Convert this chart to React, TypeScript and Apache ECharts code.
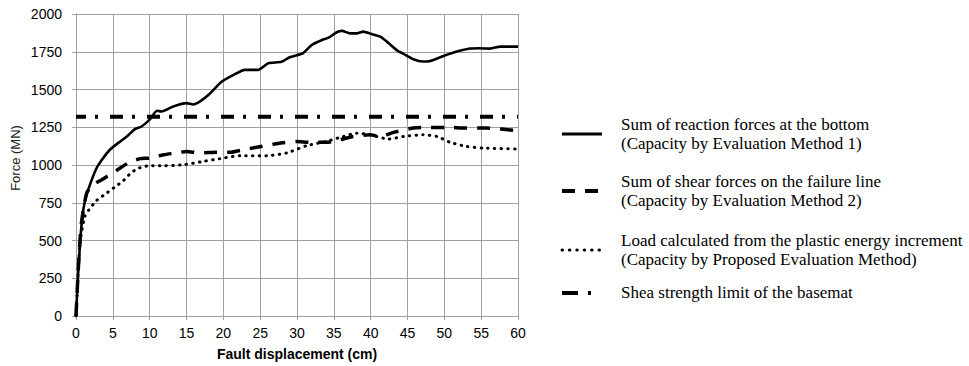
import React, { useEffect, useRef } from "react";
import * as echarts from "echarts";

// Fault displacement (cm) and force (MN)
const reactionX = [0, 0.35, 0.8, 1.2, 1.9, 2.8, 3.6, 4.6, 5.7, 6.9, 8.0, 8.9, 10.0, 11.0, 11.6, 13.2, 15.0, 15.9, 16.8, 18.0, 19.8, 21.4, 22.9, 24.7, 26.1, 27.9, 29.0, 30.8, 32.0, 33.4, 34.3, 35.4, 36.1, 37.2, 38.1, 39.0, 40.1, 41.3, 42.2, 43.7, 44.4, 45.8, 47.1, 48.1, 49.9, 51.7, 53.5, 54.8, 56.2, 57.6, 60];
const reactionY = [0, 330, 630, 760, 870, 980, 1040, 1101, 1145, 1189, 1238, 1255, 1300, 1359, 1354, 1388, 1410, 1401, 1420, 1465, 1553, 1597, 1630, 1630, 1674, 1683, 1714, 1740, 1795, 1828, 1843, 1879, 1888, 1872, 1872, 1883, 1868, 1850, 1817, 1755, 1738, 1700, 1685, 1689, 1722, 1751, 1771, 1773, 1771, 1784, 1784];

const shearX = [0, 0.3, 0.7, 1.45, 2.35, 3.5, 4.6, 6.0, 7.3, 8.7, 10.0, 11.9, 13.7, 15.0, 16.8, 19.1, 20.9, 22.7, 24.7, 27.2, 29.9, 31.8, 34.0, 35.8, 37.6, 39.9, 41.3, 43.1, 45.8, 48.1, 50.3, 53.0, 55.7, 60];
const shearY = [0, 300, 600, 815, 870, 903, 936, 980, 1020, 1042, 1046, 1068, 1080, 1090, 1080, 1084, 1084, 1101, 1119, 1141, 1156, 1150, 1150, 1167, 1189, 1200, 1189, 1216, 1245, 1249, 1249, 1245, 1245, 1227];

const energyX = [0, 0.3, 0.6, 1.2, 1.7, 2.8, 4.2, 5.3, 6.4, 7.3, 8.3, 10.0, 11.9, 14.6, 17.3, 19.5, 22.3, 25.9, 28.6, 31.3, 34.0, 36.3, 38.1, 39.9, 42.4, 44.5, 47.1, 49.0, 50.8, 53.0, 55.3, 60];
const energyY = [0, 300, 507, 660, 700, 765, 815, 855, 895, 940, 975, 996, 995, 1002, 1024, 1042, 1062, 1062, 1080, 1128, 1156, 1189, 1211, 1200, 1172, 1189, 1200, 1189, 1150, 1123, 1112, 1106];

const limitX = [0, 60];
const limitY = [1320, 1320];

const xTicks = { min: 0, max: 60, interval: 5 };
const yTicks = { min: 0, max: 2000, interval: 250 };

const legendLabels = [
  "Sum of reaction forces at the bottom\n(Capacity by Evaluation Method 1)",
  "Sum of shear forces on the failure line\n(Capacity by Evaluation Method 2)",
  "Load calculated from the plastic energy increment\n(Capacity by Proposed Evaluation Method)",
  "Shea strength limit of the basemat",
];
const xAxisTitle = "Fault displacement (cm)";
const yAxisTitle = "Force (MN)";

const pairs = (xs: number[], ys: number[]) => xs.map((x, i) => [x, ys[i]]);

export default function App() {
  const ref = useRef<HTMLDivElement>(null);
  useEffect(() => {
    if (!ref.current) return;
    const chart = echarts.init(ref.current, undefined, { renderer: "svg" });
    const grid = "#a0a0a0";
    const legendTop = [134, 191, 250, 293];
    const legendDash: any[] = [null, [13, 10], [0.5, 6.9], [16, 10, 3, 30]];
    const legendWidth = [3, 4, 3, 4];
    const graphic: any[] = [];
    legendLabels.forEach((lbl, i) => {
      graphic.push({
        type: "line",
        shape: { x1: 562, y1: legendTop[i], x2: 602, y2: legendTop[i] },
        style: {
          stroke: "#000",
          lineWidth: legendWidth[i],
          lineDash: legendDash[i] || undefined,
          lineCap: i === 2 ? "round" : "butt",
        },
      });
      graphic.push({
        type: "text",
        x: 621,
        y: i === 3 ? legendTop[i] - 1 : legendTop[i] - 0.5,
        style: {
          text: lbl,
          font: "17px 'Liberation Serif'",
          fill: "#000",
          lineHeight: 19,
          verticalAlign: "middle",
          align: "left",
        },
      });
    });
    graphic.push({
      type: "text",
      x: 15,
      y: 158,
      rotation: Math.PI / 2,
      style: {
        text: yAxisTitle,
        font: "13px 'Liberation Sans'",
        fill: "#222",
        align: "center",
        verticalAlign: "middle",
      },
    });

    chart.setOption({
      animation: false,
      backgroundColor: "#fff",
      grid: { left: 76, right: 451, top: 14, bottom: 49 },
      xAxis: {
        type: "value",
        ...xTicks,
        name: xAxisTitle,
        nameLocation: "middle",
        nameGap: 31,
        nameTextStyle: { fontFamily: "Liberation Sans", fontSize: 14, fontWeight: "bold", color: "#000" },
        axisLine: { lineStyle: { color: grid, width: 1 } },
        axisTick: { show: true, length: 4, lineStyle: { color: grid } },
        axisLabel: { fontFamily: "Liberation Sans", fontSize: 14, color: "#000", margin: 10 },
        splitLine: { show: true, lineStyle: { color: grid, width: 1 } },
      },
      yAxis: {
        type: "value",
        ...yTicks,
        axisLine: { show: true, lineStyle: { color: grid, width: 1 } },
        axisTick: { show: true, length: 4, lineStyle: { color: grid } },
        axisLabel: {
          fontFamily: "Liberation Sans",
          fontSize: 14,
          color: "#000",
          margin: 14,
          formatter: (v: number) => String(v),
        },
        splitLine: { show: true, lineStyle: { color: grid, width: 1 } },
      },
      series: [
        {
          type: "line",
          data: pairs(limitX, limitY),
          showSymbol: false,
          lineStyle: { color: "#000", width: 4, type: [13, 9, 3, 12], dashOffset: 3 },
        },
        {
          type: "line",
          data: pairs(energyX, energyY),
          showSymbol: false,
          smooth: 0.2,
          lineStyle: { color: "#000", width: 3, type: [0.5, 6.2], cap: "round" },
        },
        {
          type: "line",
          data: pairs(shearX, shearY),
          showSymbol: false,
          smooth: 0.2,
          lineStyle: { color: "#000", width: 3.5, type: [13, 10] },
        },
        {
          type: "line",
          data: pairs(reactionX, reactionY),
          showSymbol: false,
          smooth: 0.2,
          lineStyle: { color: "#000", width: 2.6 },
        },
      ],
      graphic,
    });
    return () => chart.dispose();
  }, []);
  return (
    <div
      ref={ref}
      style={{ position: "fixed", left: 0, top: 0, width: 969, height: 366 }}
    />
  );
}
